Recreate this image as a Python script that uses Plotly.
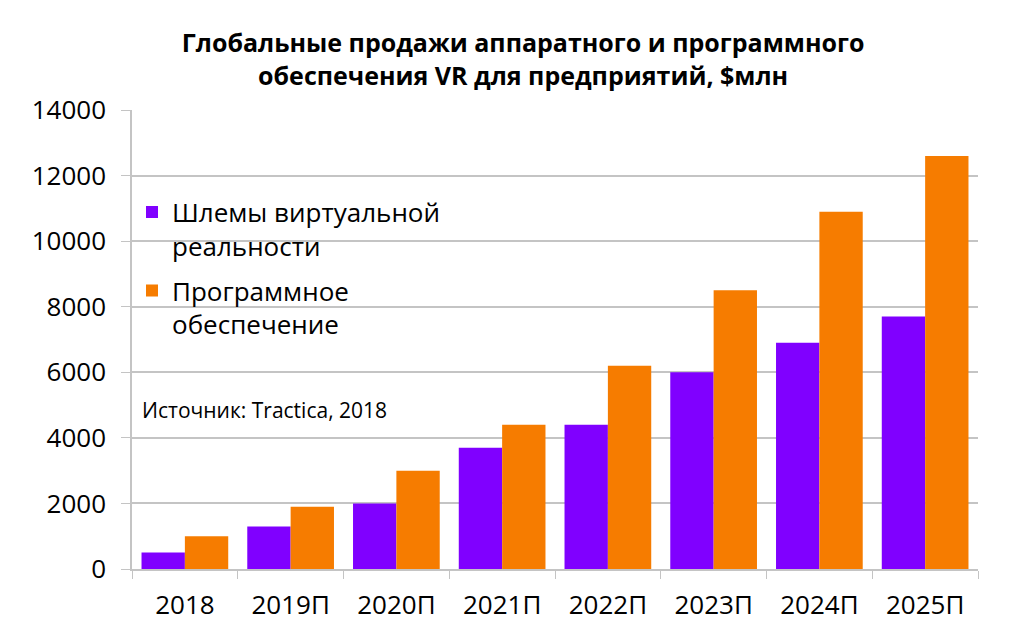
import plotly.graph_objects as go

# ----------------------------
# Data
# ----------------------------
years = ["2018", "2019П", "2020П", "2021П", "2022П", "2023П", "2024П", "2025П"]
headsets = [500, 1300, 2000, 3700, 4400, 6000, 6900, 7700]
software = [1000, 1900, 3000, 4400, 6200, 8500, 10900, 12600]

series_names = ["Шлемы виртуальной<br>реальности", "Программное<br>обеспечение"]
title_text = ("<b>Глобальные продажи аппаратного и программного<br>"
              "обеспечения VR для предприятий, $млн</b>")
source_text = "Источник: Tractica, 2018"

PURPLE = "#8000FF"
ORANGE = "#F67C00"
GRID = "#C4C4C4"
FONT = "Open Sans, Lato, sans-serif"

fig = go.Figure()
fig.add_trace(go.Bar(x=years, y=headsets, name=series_names[0], legendgroup="a",
                     marker=dict(color=PURPLE, line=dict(width=0))))
fig.add_trace(go.Bar(x=years, y=software, name=series_names[1], legendgroup="b",
                     marker=dict(color=ORANGE, line=dict(width=0))))

fig.add_annotation(text=source_text, xref="paper", yref="paper",
                   x=0.01, y=0.346, xanchor="left", yanchor="middle",
                   showarrow=False, font=dict(family=FONT, size=21, color="black"))

# page body adds 8px offset, margins compensate
fig.update_layout(
    width=1010, height=625,
    margin=dict(l=124, r=40, t=102, b=64),
    paper_bgcolor="white", plot_bgcolor="white",
    font=dict(family=FONT, color="black"),
    title=dict(text=title_text, x=0.51, xanchor="center",
               y=0.929, yanchor="top",
               font=dict(family=FONT, size=25, color="black")),
    barmode="group", bargap=0.18, bargroupgap=0,
    showlegend=True,
    legend=dict(x=0.0, y=0.829, xanchor="left", yanchor="top", valign="top",
                font=dict(family=FONT, size=26, color="black"),
                bgcolor="rgba(0,0,0,0)", tracegroupgap=8),
    xaxis=dict(showline=True, linecolor=GRID, linewidth=1.5,
               ticks="outside", tickson="boundaries", ticklen=8,
               tickcolor=GRID, tickfont=dict(family=FONT, size=26),
               ticklabelstandoff=12, showgrid=False),
    yaxis=dict(range=[0, 14000], dtick=2000, showline=True, linecolor=GRID,
               linewidth=1.5, ticks="outside", ticklen=9, tickcolor=GRID,
               showgrid=True, gridcolor=GRID, gridwidth=1.5,
               zeroline=False, tickformat="d", ticklabelstandoff=10,
               tickfont=dict(family=FONT, size=26)),
)

fig.write_html("out.html")
